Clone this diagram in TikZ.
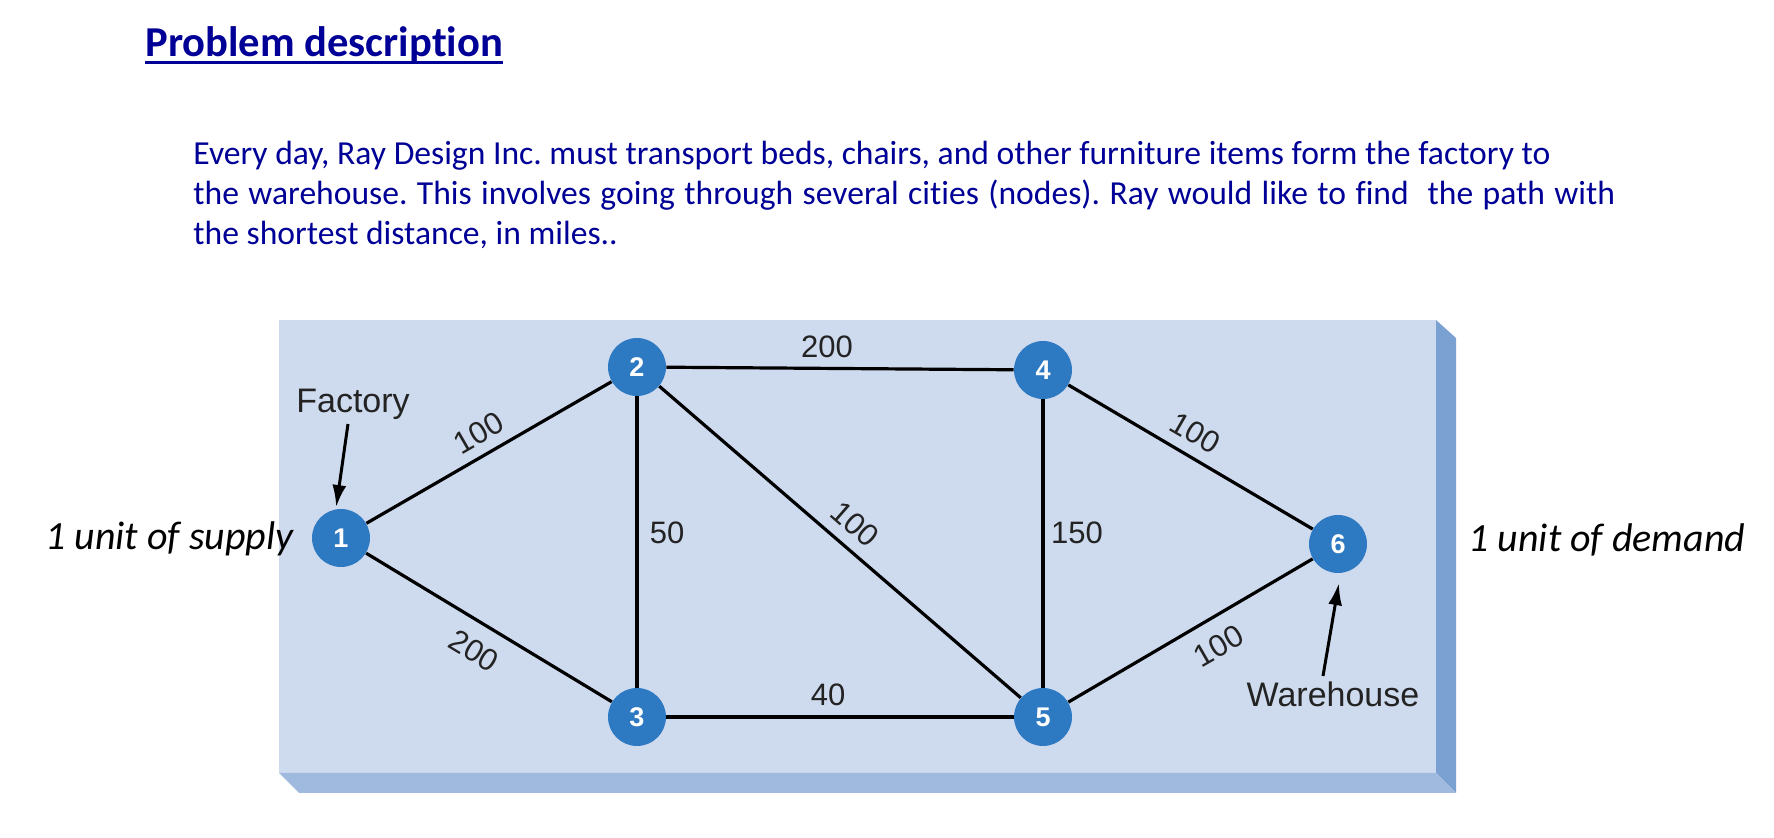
\documentclass[tikz,border=0pt]{standalone}
\usepackage{fontspec}
\setmainfont{Carlito}[Ligatures=NoCommon]
\newfontfamily\arialf{Liberation Sans}
\usetikzlibrary{arrows.meta}
\frenchspacing
\definecolor{titleblue}{RGB}{0,0,150}
\definecolor{face}{RGB}{206,218,238}
\definecolor{sidestrip}{RGB}{123,161,210}
\definecolor{bottomstrip}{RGB}{160,186,223}
\definecolor{nodeblue}{RGB}{45,121,194}
\definecolor{labelgray}{RGB}{35,35,35}
\begin{document}
\begin{tikzpicture}[x=0.5pt,y=-0.5pt,
  city/.style={circle,fill=nodeblue,minimum size=29pt,inner sep=0pt,text=white,font=\arialf\bfseries\fontsize{13.5}{13.5}\selectfont},
  road/.style={line width=1.6pt,black},
  wlabel/.style={text=labelgray,font=\arialf\fontsize{15.5}{15.5}\selectfont,inner sep=0pt},
  plabel/.style={text=labelgray,font=\arialf\fontsize{17}{17}\selectfont,inner sep=0pt,anchor=base},
  pointer/.style={line width=1.5pt,-{Latex[length=11pt,width=7pt]}},
  para/.style={anchor=base west,inner sep=0pt,text=titleblue,font=\fontsize{16.8}{18}\selectfont},
  side/.style={anchor=base west,inner sep=0pt,font=\itshape\fontsize{20}{20}\selectfont}
]
\useasboundingbox (0,0) rectangle (1774,838);
% title and paragraph
\node[anchor=base west,inner sep=0pt,text=titleblue,font=\bfseries\fontsize{21.3}{22}\selectfont] (title) at (145,57) {Problem description};
\draw[titleblue,line width=1.2pt] ([yshift=-2.7pt]title.base west) -- ([yshift=-2.7pt]title.base east);
\node[para] (p1) at (193,165) {Every day, Ray Design Inc. must transport beds, chairs, and other furniture items form the factory to};
\node[para] (p2) at (193,205) {\makebox[711pt][s]{the warehouse. This involves going through several cities (nodes). Ray would like to find\ \ the path with}};
\node[para] (p3) at (193,245) {the shortest distance, in miles..};
% slab
\fill[face] (279,320) rectangle (1436,773);
\fill[sidestrip] (1436,320) -- (1456,338) -- (1456,793) -- (1436,773) -- cycle;
\fill[bottomstrip] (279,773) -- (1436,773) -- (1456,793) -- (299,793) -- cycle;
% cities
\node[city] (n1) at (341,538) {1};
\node[city] (n2) at (637,367) {2};
\node[city] (n3) at (637,717) {3};
\node[city] (n4) at (1043,370) {4};
\node[city] (n5) at (1043,717) {5};
\node[city] (n6) at (1338,544) {6};
% roads
\draw[road] (n1) -- (n2);
\draw[road] (n1) -- (n3);
\draw[road] (n2) -- (n4);
\draw[road] (n2) -- (n3);
\draw[road] (n2) -- (n5);
\draw[road] (n3) -- (n5);
\draw[road] (n4) -- (n5);
\draw[road] (n4) -- (n6);
\draw[road] (n5) -- (n6);
% distances
\node[wlabel,rotate=30] (l12) at (479,433) {100};
\node[wlabel,rotate=-31] (l13) at (474,651) {200};
\node[wlabel] (l24) at (827,347) {200};
\node[wlabel] (l23) at (667,533) {50};
\node[wlabel,rotate=-41] (l25) at (855,524) {100};
\node[wlabel] (l35) at (828,695) {40};
\node[wlabel] (l45) at (1077,533) {150};
\node[wlabel,rotate=-30] (l46) at (1195,433) {100};
\node[wlabel,rotate=30] (l56) at (1219,646) {100};
% factory / warehouse
\node[plabel] (factory) at (353,413) {Factory};
\coordinate (fa) at (348,424);
\draw[pointer,shorten >=1pt] (fa) -- (n1.100);
\node[plabel] (warehouse) at (1333,707) {Warehouse};
\coordinate (wa) at (1323,676);
\draw[pointer,shorten >=5pt] (wa) -- (n6.-85);
% supply / demand
\node[side] (supply) at (45,550) {1 unit of supply};
\node[side] (demand) at (1468,552) {1 unit of demand};
\end{tikzpicture}
\end{document}
